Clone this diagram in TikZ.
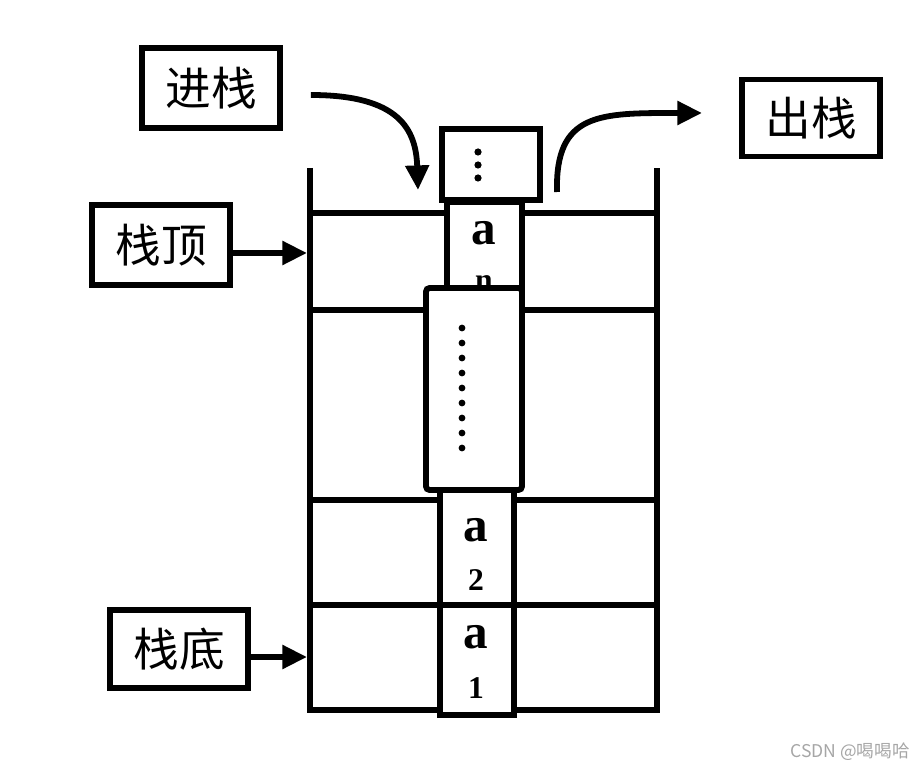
\documentclass[tikz,border=0pt]{standalone}
\usepackage{fontspec}
\setmainfont{Liberation Serif}
\newfontfamily\cjk{Noto Sans CJK SC}
\usetikzlibrary{arrows.meta,positioning}

\begin{document}
\begin{tikzpicture}[x=0.02cm,y=-0.02cm,line width=3.3pt,
    lbl/.style={draw,fill=white,font=\cjk\fontsize{26}{26}\selectfont,
      minimum width=2.76cm,minimum height=1.6cm,inner sep=0pt},
    elem/.style={font=\bfseries\fontsize{28}{28}\selectfont,inner sep=0pt},
    sub/.style={font=\bfseries\fontsize{18}{18}\selectfont,inner sep=0pt},
    arr/.style={-{Triangle[length=14pt,width=13pt]}}]
  \useasboundingbox (0,0) rectangle (920,770);
  % stack walls and rows
  \draw (310,168) -- (310,710) -- (657,710) -- (657,168);
  \foreach \y in {213,310,500,605} \draw (310,\y) -- (657,\y);
  % labels
  \node[lbl] (push) at (211,88) {进栈};
  \node[lbl,minimum height=1.54cm] (pop) at (811,118) {出栈};
  \node[lbl] (top) at (161,245) {栈顶};
  \node[lbl,minimum height=1.56cm] (bottom) at (179,649) {栈底};
  % elements
  \draw[fill=white] (442,129) rectangle (540,200);
  \foreach \y in {152,165,178} \fill (478,\y) circle (3.6);
  \draw[fill=white] (447,202) rectangle (522,290);
  \node[elem] (an) at (484,233) {a};
  \node[sub] (n) at (484,283) {n};
  \draw[fill=white,rounded corners=2pt] (426,288) rectangle (522,490);
  \foreach \y in {328,343,...,448} \fill (462,\y) circle (3.4);
  \draw[fill=white] (440,490) rectangle (514,605);
  \node[elem] (a2) at (476,530) {a};
  \node[sub] (two) at (476,580) {2};
  \draw[fill=white] (440,605) rectangle (514,715);
  \node[elem] (a1) at (476,637) {a};
  \node[sub] (one) at (476,688) {1};
  % arrows
  \coordinate (pushend) at (418,190);
  \coordinate (popstart) at (557,192);
  \coordinate (popend) at (702,113);
  \coordinate (topwall) at (307,253);
  \coordinate (bottomwall) at (307,657);
  \draw[arr] ([xshift=0.56cm,yshift=-0.14cm]push.east) .. controls (400,95) and (416,130) .. (pushend);
  \draw[arr] (popstart) .. controls (555,112) and (600,113) .. (popend);
  \draw[arr] ([yshift=-0.16cm]top.east) -- (topwall);
  \draw[arr] ([yshift=-0.16cm]bottom.east) -- (bottomwall);
  % watermark
  \node[font=\cjk\fontsize{10}{10}\selectfont,text=black!35] (mark) at (850,752) {CSDN @喝喝哈};
\end{tikzpicture}
\end{document}
